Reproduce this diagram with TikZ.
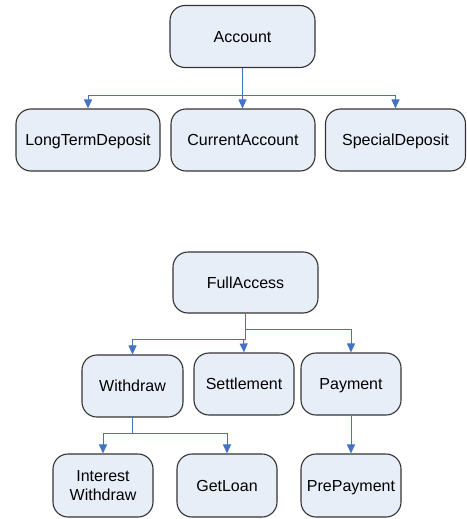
\documentclass[tikz,border=0pt]{standalone}
\usepackage{fontspec}
\setmainfont{Liberation Sans}
\usepackage{xcolor}
\usetikzlibrary{arrows.meta}

\definecolor{boxfill}{HTML}{E8EEF8}
\definecolor{linkblue}{HTML}{4472C4}

\tikzset{
  cls/.style={draw=black!80, line width=1.1pt, fill=boxfill,
    rounded corners=15pt, minimum height=62pt, align=center,
    font=\fontsize{16}{19}\selectfont, inner sep=2pt},
  onerow/.style={cls, text height=11.5pt, text depth=0pt},
  link/.style={draw=linkblue, line width=1pt,
    -{Triangle[length=9pt,width=8pt]}},
  stem/.style={draw=linkblue, line width=1.4pt},
}

\begin{document}
\begin{tikzpicture}[x=1pt,y=-1pt]
  \useasboundingbox (0,0) rectangle (466,519);

  % account hierarchy
  \node (acc) [onerow, minimum width=145pt] at (242.5,36.5) {Account};
  \node (ltd) [onerow, minimum width=144pt] at (88,140) {LongTermDeposit};
  \node (cur) [onerow, minimum width=144pt] at (243,140) {CurrentAccount};
  \node (spd) [onerow, minimum width=140pt] at (395.5,140) {SpecialDeposit};

  \path (acc.south) +(0,27) coordinate (accbar);
  \draw[stem] (acc.south) -- (accbar);
  \draw[link] (accbar) -| (ltd.north);
  \draw[link] (accbar) -- (acc.south |- cur.north);
  \draw[link] (accbar) -| (spd.north);

  % access rights
  \node (full) [onerow, minimum width=145pt, minimum height=61pt] at (245.5,282.5) {FullAccess};
  \node (wdr) [onerow, minimum width=101pt] at (132.5,386) {Withdraw};
  \node (stl) [onerow, minimum width=100pt] at (244,384) {Settlement};
  \node (pay) [onerow, minimum width=100pt] at (351,384) {Payment};
  \node (iwd) [cls, minimum width=100pt, minimum height=63pt] at (103,485.5) {Interest\\Withdraw};
  \node (gln) [onerow, minimum width=100pt, minimum height=63pt] at (227,485.5) {GetLoan};
  \node (pre) [onerow, minimum width=100pt, minimum height=63pt] at (351,485.5) {PrePayment};

  \path (full.south) +(0,16) coordinate (fullhi);
  \path (full.south) +(0,26) coordinate (fulllo);
  \draw[stem] (full.south) -- (fulllo);
  \draw[link] (fullhi) -| (pay.north);
  \draw[link] (fulllo) -| (wdr.north);
  \draw[link] (fulllo) -- ++(-2,0) -- (stl.north);

  \path (wdr.south) +(0,16) coordinate (wdrbar);
  \draw[stem] (wdr.south) -- (wdrbar);
  \draw[link] (wdrbar) -| (iwd.north);
  \draw[link] (wdrbar) -| (gln.north);

  \draw[link] (pay.south) -- (pre.north);
\end{tikzpicture}
\end{document}
